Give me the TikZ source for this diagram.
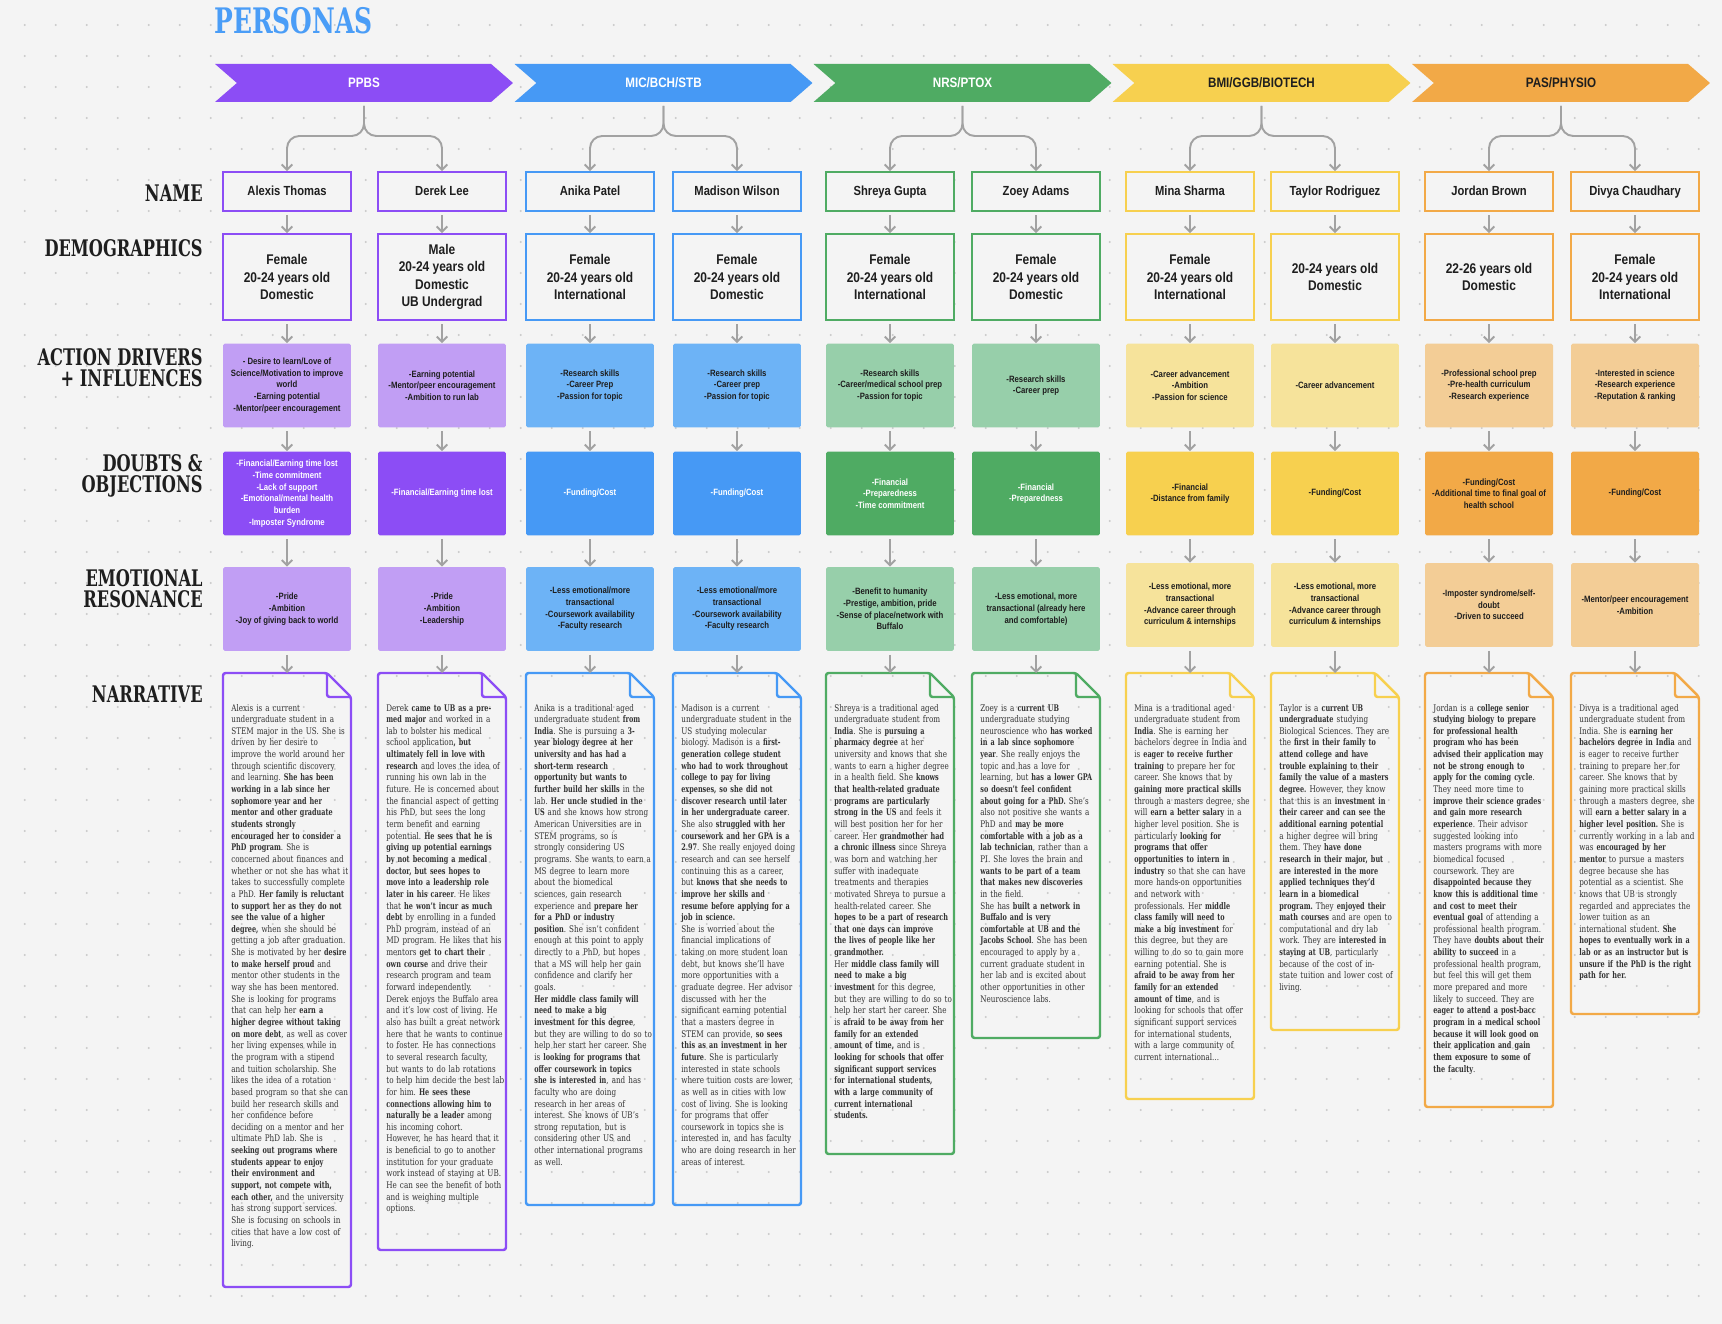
\documentclass[tikz,border=0pt]{standalone}
\usepackage{fontspec}
\setmainfont{DejaVu Serif}[UprightFeatures={FakeStretch=0.79},BoldFeatures={FakeStretch=0.71}]
\setsansfont{Liberation Sans}[FakeStretch=0.85]
\usetikzlibrary{arrows.meta,positioning,shapes.symbols}

\definecolor{bg}{HTML}{F4F4F4}
\definecolor{dotc}{HTML}{CACACA}
\definecolor{ink}{HTML}{1E1E1E}
\definecolor{txt}{HTML}{333333}
\definecolor{linkc}{HTML}{A2A2A2}
\definecolor{titleblue}{HTML}{4A9DF7}
\definecolor{ppbs}{HTML}{8C4DF5}
\definecolor{ppbslt}{HTML}{C19EF4}
\definecolor{mic}{HTML}{4699F5}
\definecolor{miclt}{HTML}{6DB3F6}
\definecolor{nrs}{HTML}{4FAB63}
\definecolor{nrslt}{HTML}{97CFAA}
\definecolor{bmi}{HTML}{F7D04F}
\definecolor{bmilt}{HTML}{F6E39B}
\definecolor{pas}{HTML}{F2A947}
\definecolor{paslt}{HTML}{F3CD96}

\begin{document}
\begin{tikzpicture}[x=0.02cm,y=-0.02cm,
  rowlabel/.style={anchor=east,align=right,inner sep=0pt,
                   font=\bfseries\fontsize{13}{11.9}\selectfont,text=ink},
  banner/.style={signal,signal from=west,signal to=east,signal pointer angle=82,
                 minimum width=5.96cm,minimum height=0.76cm,inner sep=0pt,
                 font=\sffamily\bfseries\fontsize{7.8}{9}\selectfont},
  namebox/.style={rectangle,draw,line width=1.1pt,fill=bg,minimum width=2.56cm,
                  minimum height=0.78cm,inner sep=0pt,text=ink,
                  text height=5.6pt,text depth=1.6pt,
                  font=\sffamily\bfseries\fontsize{7.5}{9}\selectfont},
  demobox/.style={rectangle,draw,line width=1.1pt,fill=bg,minimum width=2.56cm,
                  minimum height=1.72cm,inner sep=0pt,align=center,text=ink,
                  font=\sffamily\bfseries\fontsize{8}{9.8}\selectfont},
  cardbox/.style={rectangle,rounded corners=1pt,minimum width=2.56cm,
                  minimum height=1.68cm,inner sep=0pt,align=center,text=ink,
                  font=\sffamily\bfseries\fontsize{5.2}{6.65}\selectfont},
  story/.style={line width=1.4pt,rounded corners=1.5pt},
  storytext/.style={anchor=base west,inner sep=0pt,text width=2.8cm,align=left,
                    font=\fontsize{5.2}{6.63}\selectfont\frenchspacing,text=txt},
  link/.style={linkc,line width=1.1pt,-{Straight Barb[length=3pt,width=6pt]},
               shorten <=2pt},
]
  % Background and dot grid
  \useasboundingbox (0,0) rectangle (1722,1324);
  \fill[bg] (0,0) rectangle (1722,1324);
  \begin{scope}
    \clip (0,0) rectangle (1722,1324);
    \foreach \i in {0,...,55}
      \foreach \j in {0,...,42}
        \fill[dotc] (24.7+31*\i,25+31*\j) circle (0.65pt);
  \end{scope}

  % Title
  \node[anchor=west,inner sep=0pt,text=titleblue,
        font=\bfseries\fontsize{20}{20}\selectfont] (title) at (214,21) {PERSONAS};

  % Program banners
  \node[banner,fill=ppbs,text=white] (ppbs) at (364,83) {PPBS};
  \node[banner,fill=mic,text=white]  (mic)  at (663.5,83) {MIC/BCH/STB};
  \node[banner,fill=nrs,text=white]  (nrs)  at (962.5,83) {NRS/PTOX};
  \node[banner,fill=bmi,text=ink]    (bmi)  at (1261.5,83) {BMI/GGB/BIOTECH};
  \node[banner,fill=pas,text=ink]    (pas)  at (1561,83) {PAS/PHYSIO};

  % Row labels
  \node[rowlabel] (lbl-name)  at (203,193) {NAME};
  \node[rowlabel] (lbl-demo)  at (203,248) {DEMOGRAPHICS};
  \node[rowlabel] (lbl-act)   at (203,368) {ACTION DRIVERS\\+ INFLUENCES};
  \node[rowlabel] (lbl-doubt) at (203,476) {DOUBTS \&\\OBJECTIONS};
  \node[rowlabel] (lbl-emo)   at (203,589) {EMOTIONAL\\RESONANCE};
  \node[rowlabel] (lbl-story) at (203,694) {NARRATIVE};

  % Names
  \node[namebox,draw=ppbs] (alexis)  at (287,191.5)  {Alexis Thomas};
  \node[namebox,draw=ppbs] (derek)   at (442,191.5)  {Derek Lee};
  \node[namebox,draw=mic]  (anika)   at (590,191.5)  {Anika Patel};
  \node[namebox,draw=mic]  (madison) at (737,191.5)  {Madison Wilson};
  \node[namebox,draw=nrs]  (shreya)  at (890,191.5)  {Shreya Gupta};
  \node[namebox,draw=nrs]  (zoey)    at (1036,191.5) {Zoey Adams};
  \node[namebox,draw=bmi]  (mina)    at (1190,191.5) {Mina Sharma};
  \node[namebox,draw=bmi]  (taylor)  at (1335,191.5) {Taylor Rodriguez};
  \node[namebox,draw=pas]  (jordan)  at (1489,191.5) {Jordan Brown};
  \node[namebox,draw=pas]  (divya)   at (1635,191.5) {Divya Chaudhary};

  % Demographics
  \node[demobox,draw=ppbs] (alexis-demo)  at (287,277)  {Female\\20-24 years old\\Domestic};
  \node[demobox,draw=ppbs] (derek-demo)   at (442,277)  {Male\\20-24 years old\\Domestic\\UB Undergrad};
  \node[demobox,draw=mic]  (anika-demo)   at (590,277)  {Female\\20-24 years old\\International};
  \node[demobox,draw=mic]  (madison-demo) at (737,277)  {Female\\20-24 years old\\Domestic};
  \node[demobox,draw=nrs]  (shreya-demo)  at (890,277)  {Female\\20-24 years old\\International};
  \node[demobox,draw=nrs]  (zoey-demo)    at (1036,277) {Female\\20-24 years old\\Domestic};
  \node[demobox,draw=bmi]  (mina-demo)    at (1190,277) {Female\\20-24 years old\\International};
  \node[demobox,draw=bmi]  (taylor-demo)  at (1335,277) {20-24 years old\\Domestic};
  \node[demobox,draw=pas]  (jordan-demo)  at (1489,277) {22-26 years old\\Domestic};
  \node[demobox,draw=pas]  (divya-demo)   at (1635,277) {Female\\20-24 years old\\International};

  % Action drivers + influences
  \node[cardbox,fill=ppbslt] (alexis-act)  at (287,385.5)  {- Desire to learn/Love of\\Science/Motivation to improve\\world\\-Earning potential\\-Mentor/peer encouragement};
  \node[cardbox,fill=ppbslt] (derek-act)   at (442,385.5)  {-Earning potential\\-Mentor/peer encouragement\\-Ambition to run lab};
  \node[cardbox,fill=miclt]  (anika-act)   at (590,385.5)  {-Research skills\\-Career Prep\\-Passion for topic};
  \node[cardbox,fill=miclt]  (madison-act) at (737,385.5)  {-Research skills\\-Career prep\\-Passion for topic};
  \node[cardbox,fill=nrslt]  (shreya-act)  at (890,385.5)  {-Research skills\\-Career/medical school prep\\-Passion for topic};
  \node[cardbox,fill=nrslt]  (zoey-act)    at (1036,385.5) {-Research skills\\-Career prep};
  \node[cardbox,fill=bmilt]  (mina-act)    at (1190,385.5) {-Career advancement\\-Ambition\\-Passion for science};
  \node[cardbox,fill=bmilt]  (taylor-act)  at (1335,385.5) {-Career advancement};
  \node[cardbox,fill=paslt]  (jordan-act)  at (1489,385.5) {-Professional school prep\\-Pre-health curriculum\\-Research experience};
  \node[cardbox,fill=paslt]  (divya-act)   at (1635,385.5) {-Interested in science\\-Research experience\\-Reputation \& ranking};

  % Doubts & objections
  \node[cardbox,fill=ppbs,text=white] (alexis-doubt)  at (287,493.5)  {-Financial/Earning time lost\\-Time commitment\\-Lack of support\\-Emotional/mental health\\burden\\-Imposter Syndrome};
  \node[cardbox,fill=ppbs,text=white] (derek-doubt)   at (442,493.5)  {-Financial/Earning time lost};
  \node[cardbox,fill=mic,text=white]  (anika-doubt)   at (590,493.5)  {-Funding/Cost};
  \node[cardbox,fill=mic,text=white]  (madison-doubt) at (737,493.5)  {-Funding/Cost};
  \node[cardbox,fill=nrs,text=white]  (shreya-doubt)  at (890,493.5)  {-Financial\\-Preparedness\\-Time commitment};
  \node[cardbox,fill=nrs,text=white]  (zoey-doubt)    at (1036,493.5) {-Financial\\-Preparedness};
  \node[cardbox,fill=bmi]             (mina-doubt)    at (1190,493.5) {-Financial\\-Distance from family};
  \node[cardbox,fill=bmi]             (taylor-doubt)  at (1335,493.5) {-Funding/Cost};
  \node[cardbox,fill=pas]             (jordan-doubt)  at (1489,493.5) {-Funding/Cost\\-Additional time to final goal of\\health school};
  \node[cardbox,fill=pas]             (divya-doubt)   at (1635,493.5) {-Funding/Cost};

  % Emotional resonance
  \node[cardbox,fill=ppbslt] (alexis-emo)  at (287,609)  {-Pride\\-Ambition\\-Joy of giving back to world};
  \node[cardbox,fill=ppbslt] (derek-emo)   at (442,609)  {-Pride\\-Ambition\\-Leadership};
  \node[cardbox,fill=miclt]  (anika-emo)   at (590,609)  {-Less emotional/more\\transactional\\-Coursework availability\\-Faculty research};
  \node[cardbox,fill=miclt]  (madison-emo) at (737,609)  {-Less emotional/more\\transactional\\-Coursework availability\\-Faculty research};
  \node[cardbox,fill=nrslt]  (shreya-emo)  at (890,609)  {-Benefit to humanity\\-Prestige, ambition, pride\\-Sense of place/network with\\Buffalo};
  \node[cardbox,fill=nrslt]  (zoey-emo)    at (1036,609) {-Less emotional, more\\transactional (already here\\and comfortable)};
  \node[cardbox,fill=bmilt]  (mina-emo)    at (1190,605) {-Less emotional, more\\transactional\\-Advance career through\\curriculum \& internships};
  \node[cardbox,fill=bmilt]  (taylor-emo)  at (1335,605) {-Less emotional, more\\transactional\\-Advance career through\\curriculum \& internships};
  \node[cardbox,fill=paslt]  (jordan-emo)  at (1489,605) {-Imposter syndrome/self-\\doubt\\-Driven to succeed};
  \node[cardbox,fill=paslt]  (divya-emo)   at (1635,605) {-Mentor/peer encouragement\\-Ambition};

  % Narrative documents
  \coordinate (alexis-story)  at (287,673);
  \coordinate (derek-story)   at (442,673);
  \coordinate (anika-story)   at (590,673);
  \coordinate (madison-story) at (737,673);
  \coordinate (shreya-story)  at (890,673);
  \coordinate (zoey-story)    at (1036,673);
  \coordinate (mina-story)    at (1190,673);
  \coordinate (taylor-story)  at (1335,673);
  \coordinate (jordan-story)  at (1489,673);
  \coordinate (divya-story)   at (1635,673);

  \draw[story,ppbs] (223,673) -- ++(104,0) -- ++(24,24) |- (223,1287) -- cycle;
  \draw[story,ppbs] (327,673) |- (351,697);
  \draw[story,ppbs] (378,673) -- ++(104,0) -- ++(24,24) |- (378,1250) -- cycle;
  \draw[story,ppbs] (482,673) |- (506,697);
  \draw[story,mic] (526,673) -- ++(104,0) -- ++(24,24) |- (526,1205) -- cycle;
  \draw[story,mic] (630,673) |- (654,697);
  \draw[story,mic] (673,673) -- ++(104,0) -- ++(24,24) |- (673,1205) -- cycle;
  \draw[story,mic] (777,673) |- (801,697);
  \draw[story,nrs] (826,673) -- ++(104,0) -- ++(24,24) |- (826,1154) -- cycle;
  \draw[story,nrs] (930,673) |- (954,697);
  \draw[story,nrs] (972,673) -- ++(104,0) -- ++(24,24) |- (972,1038) -- cycle;
  \draw[story,nrs] (1076,673) |- (1100,697);
  \draw[story,bmi] (1126,673) -- ++(104,0) -- ++(24,24) |- (1126,1099) -- cycle;
  \draw[story,bmi] (1230,673) |- (1254,697);
  \draw[story,bmi] (1271,673) -- ++(104,0) -- ++(24,24) |- (1271,1030) -- cycle;
  \draw[story,bmi] (1375,673) |- (1399,697);
  \draw[story,pas] (1425,673) -- ++(104,0) -- ++(24,24) |- (1425,1107) -- cycle;
  \draw[story,pas] (1529,673) |- (1553,697);
  \draw[story,pas] (1571,673) -- ++(104,0) -- ++(24,24) |- (1571,1014) -- cycle;
  \draw[story,pas] (1675,673) |- (1699,697);

  \node[storytext] (alexis-text) at (231,711) {Alexis is a current\\
undergraduate student in a\\
STEM major in the US. She is\\
driven by her desire to\\
improve the world around her\\
through scientific discovery\\
and learning. \textbf{She has been}\\
\textbf{working in a lab since her}\\
\textbf{sophomore year and her}\\
\textbf{mentor and other graduate}\\
\textbf{students strongly}\\
\textbf{encouraged her to consider a}\\
\textbf{PhD program}. She is\\
concerned about finances and\\
whether or not she has what it\\
takes to successfully complete\\
a PhD. \textbf{Her family is reluctant}\\
\textbf{to support her as they do not}\\
\textbf{see the value of a higher}\\
\textbf{degree,} when she should be\\
getting a job after graduation.\\
She is motivated by her \textbf{desire}\\
\textbf{to make herself proud} and\\
mentor other students in the\\
way she has been mentored.\\
She is looking for programs\\
that can help her \textbf{earn a}\\
\textbf{higher degree without taking}\\
\textbf{on more debt}, as well as cover\\
her living expenses while in\\
the program with a stipend\\
and tuition scholarship. She\\
likes the idea of a rotation\\
based program so that she can\\
build her research skills and\\
her confidence before\\
deciding on a mentor and her\\
ultimate PhD lab. She is\\
\textbf{seeking out programs where}\\
\textbf{students appear to enjoy}\\
\textbf{their environment and}\\
\textbf{support, not compete with,}\\
\textbf{each other,} and the university\\
has strong support services.\\
She is focusing on schools in\\
cities that have a low cost of\\
living.};

  \node[storytext] (derek-text) at (386,711) {Derek \textbf{came to UB as a pre-}\\
\textbf{med major} and worked in a\\
lab to bolster his medical\\
school application\textbf{, but}\\
\textbf{ultimately fell in love with}\\
\textbf{research} and loves the idea of\\
running his own lab in the\\
future. He is concerned about\\
the financial aspect of getting\\
his PhD, but sees the long\\
term benefit and earning\\
potential. \textbf{He sees that he is}\\
\textbf{giving up potential earnings}\\
\textbf{by not becoming a medical}\\
\textbf{doctor, but sees hopes to}\\
\textbf{move into a leadership role}\\
\textbf{later in his career}. He likes\\
that \textbf{he won't incur as much}\\
\textbf{debt} by enrolling in a funded\\
PhD program, instead of an\\
MD program. He likes that his\\
mentors \textbf{get to chart their}\\
\textbf{own course} and drive their\\
research program and team\\
forward independently.\\
Derek enjoys the Buffalo area\\
and it's low cost of living. He\\
also has built a great network\\
here that he wants to continue\\
to foster. He has connections\\
to several research faculty,\\
but wants to do lab rotations\\
to help him decide the best lab\\
for him. \textbf{He sees these}\\
\textbf{connections allowing him to}\\
\textbf{naturally be a leader} among\\
his incoming cohort.\\
However, he has heard that it\\
is beneficial to go to another\\
institution for your graduate\\
work instead of staying at UB.\\
He can see the benefit of both\\
and is weighing multiple\\
options.};

  \node[storytext] (anika-text) at (534,711) {Anika is a traditional aged\\
undergraduate student \textbf{from}\\
\textbf{India}. She is pursuing a \textbf{3-}\\
\textbf{year biology degree at her}\\
\textbf{university and has had a}\\
\textbf{short-term research}\\
\textbf{opportunity but wants to}\\
\textbf{further build her skills} in the\\
lab. \textbf{Her uncle studied in the}\\
\textbf{US} and she knows how strong\\
American Universities are in\\
STEM programs, so is\\
strongly considering US\\
programs. She wants to earn a\\
MS degree to learn more\\
about the biomedical\\
sciences, gain research\\
experience and \textbf{prepare her}\\
\textbf{for a PhD or industry}\\
\textbf{position}. She isn't confident\\
enough at this point to apply\\
directly to a PhD, but hopes\\
that a MS will help her gain\\
confidence and clarify her\\
goals.\\
\textbf{Her middle class family will}\\
\textbf{need to make a big}\\
\textbf{investment for this degree},\\
but they are willing to do so to\\
help her start her career. She\\
is \textbf{looking for programs that}\\
\textbf{offer coursework in topics}\\
\textbf{she is interested in}, and has\\
faculty who are doing\\
research in her areas of\\
interest. She knows of UB's\\
strong reputation, but is\\
considering other US and\\
other international programs\\
as well.};

  \node[storytext] (madison-text) at (681,711) {Madison is a current\\
undergraduate student in the\\
US studying molecular\\
biology. Madison is a \textbf{first-}\\
\textbf{generation college student}\\
\textbf{who had to work throughout}\\
\textbf{college to pay for living}\\
\textbf{expenses, so she did not}\\
\textbf{discover research until later}\\
\textbf{in her undergraduate career}.\\
She also \textbf{struggled with her}\\
\textbf{coursework and her GPA is a}\\
\textbf{2.97}. She really enjoyed doing\\
research and can see herself\\
continuing this as a career,\\
but \textbf{knows that she needs to}\\
\textbf{improve her skills and}\\
\textbf{resume before applying for a}\\
\textbf{job in science.}\\
She is worried about the\\
financial implications of\\
taking on more student loan\\
debt, but knows she'll have\\
more opportunities with a\\
graduate degree. Her advisor\\
discussed with her the\\
significant earning potential\\
that a masters degree in\\
STEM can provide, \textbf{so sees}\\
\textbf{this as an investment in her}\\
\textbf{future}. She is particularly\\
interested in state schools\\
where tuition costs are lower,\\
as well as in cities with low\\
cost of living. She is looking\\
for programs that offer\\
coursework in topics she is\\
interested in, and has faculty\\
who are doing research in her\\
areas of interest.};

  \node[storytext] (shreya-text) at (834,711) {Shreya is a traditional aged\\
undergraduate student from\\
\textbf{India}. She is \textbf{pursuing a}\\
\textbf{pharmacy degree} at her\\
university and knows that she\\
wants to earn a higher degree\\
in a health field. She \textbf{knows}\\
\textbf{that health-related graduate}\\
\textbf{programs are particularly}\\
\textbf{strong in the US} and feels it\\
will best position her for her\\
career. Her \textbf{grandmother had}\\
\textbf{a chronic illness} since Shreya\\
was born and watching her\\
suffer with inadequate\\
treatments and therapies\\
motivated Shreya to pursue a\\
health-related career. She\\
\textbf{hopes to be a part of research}\\
\textbf{that one days can improve}\\
\textbf{the lives of people like her}\\
\textbf{grandmother.}\\
Her \textbf{middle class family will}\\
\textbf{need to make a big}\\
\textbf{investment} for this degree,\\
but they are willing to do so to\\
help her start her career. She\\
is \textbf{afraid to be away from her}\\
\textbf{family for an extended}\\
\textbf{amount of time,} and is\\
\textbf{looking for schools that offer}\\
\textbf{significant support services}\\
\textbf{for international students,}\\
\textbf{with a large community of}\\
\textbf{current international}\\
\textbf{students.}};

  \node[storytext] (zoey-text) at (980,711) {Zoey is a \textbf{current UB}\\
undergraduate studying\\
neuroscience who \textbf{has worked}\\
\textbf{in a lab since sophomore}\\
\textbf{year}. She really enjoys the\\
topic and has a love for\\
learning, but \textbf{has a lower GPA}\\
\textbf{so doesn't feel confident}\\
\textbf{about going for a PhD.} She's\\
also not positive she wants a\\
PhD and \textbf{may be more}\\
\textbf{comfortable with a job as a}\\
\textbf{lab technician}, rather than a\\
PI. She loves the brain and\\
\textbf{wants to be part of a team}\\
\textbf{that makes new discoveries}\\
in the field.\\
She has \textbf{built a network in}\\
\textbf{Buffalo and is very}\\
\textbf{comfortable at UB and the}\\
\textbf{Jacobs School}. She has been\\
encouraged to apply by a\\
current graduate student in\\
her lab and is excited about\\
other opportunities in other\\
Neuroscience labs.};

  \node[storytext] (mina-text) at (1134,711) {Mina is a traditional aged\\
undergraduate student from\\
\textbf{India}. She is earning her\\
bachelors degree in India and\\
is \textbf{eager to receive further}\\
\textbf{training} to prepare her for\\
career. She knows that by\\
\textbf{gaining more practical skills}\\
through a masters degree, she\\
will \textbf{earn a better salary} in a\\
higher level position. She is\\
particularly \textbf{looking for}\\
\textbf{programs that offer}\\
\textbf{opportunities to intern in}\\
\textbf{industry} so that she can have\\
more hands-on opportunities\\
and network with\\
professionals. Her \textbf{middle}\\
\textbf{class family will need to}\\
\textbf{make a big investment} for\\
this degree, but they are\\
willing to do so to gain more\\
earning potential. She is\\
\textbf{afraid to be away from her}\\
\textbf{family for an extended}\\
\textbf{amount of time}, and is\\
looking for schools that offer\\
significant support services\\
for international students,\\
with a large community of\\
current international...};

  \node[storytext] (taylor-text) at (1279,711) {Taylor is a \textbf{current UB}\\
\textbf{undergraduate} studying\\
Biological Sciences. They are\\
the \textbf{first in their family to}\\
\textbf{attend college and have}\\
\textbf{trouble explaining to their}\\
\textbf{family the value of a masters}\\
\textbf{degree.} However, they know\\
that this is an \textbf{investment in}\\
\textbf{their career and can see the}\\
\textbf{additional earning potential}\\
a higher degree will bring\\
them. They \textbf{have done}\\
\textbf{research in their major, but}\\
\textbf{are interested in the more}\\
\textbf{applied techniques they'd}\\
\textbf{learn in a biomedical}\\
\textbf{program.} They \textbf{enjoyed their}\\
\textbf{math courses} and are open to\\
computational and dry lab\\
work. They are \textbf{interested in}\\
\textbf{staying at UB}, particularly\\
because of the cost of in-\\
state tuition and lower cost of\\
living.};

  \node[storytext] (jordan-text) at (1433,711) {Jordan is a \textbf{college senior}\\
\textbf{studying biology to prepare}\\
\textbf{for professional health}\\
\textbf{program who has been}\\
\textbf{advised their application may}\\
\textbf{not be strong enough to}\\
\textbf{apply for the coming cycle}.\\
They need more time to\\
\textbf{improve their science grades}\\
\textbf{and gain more research}\\
\textbf{experience}. Their advisor\\
suggested looking into\\
masters programs with more\\
biomedical focused\\
coursework. They are\\
\textbf{disappointed because they}\\
\textbf{know this is additional time}\\
\textbf{and cost to meet their}\\
\textbf{eventual goal} of attending a\\
professional health program.\\
They have \textbf{doubts about their}\\
\textbf{ability to succeed} in a\\
professional health program,\\
but feel this will get them\\
more prepared and more\\
likely to succeed. They are\\
\textbf{eager to attend a post-bacc}\\
\textbf{program in a medical school}\\
\textbf{because it will look good on}\\
\textbf{their application and gain}\\
\textbf{them exposure to some of}\\
\textbf{the faculty}.};

  \node[storytext] (divya-text) at (1579,711) {Divya is a traditional aged\\
undergraduate student from\\
India. She is \textbf{earning her}\\
\textbf{bachelors degree in India} and\\
is eager to receive further\\
training to prepare her for\\
career. She knows that by\\
gaining more practical skills\\
through a masters degree, she\\
will \textbf{earn a better salary in a}\\
\textbf{higher level position.} She is\\
currently working in a lab and\\
was \textbf{encouraged by her}\\
\textbf{mentor} to pursue a masters\\
degree because she has\\
potential as a scientist. She\\
knows that UB is strongly\\
regarded and appreciates the\\
lower tuition as an\\
international student. \textbf{She}\\
\textbf{hopes to eventually work in a}\\
\textbf{lab or as an instructor but is}\\
\textbf{unsure if the PhD is the right}\\
\textbf{path for her.}};

  % Banner branches to the personas
  \draw[link,rounded corners=7pt] (ppbs.south) -- (364,136) -| (alexis.north);
  \draw[link,rounded corners=7pt] (ppbs.south) -- (364,136) -| (derek.north);
  \draw[link,rounded corners=7pt] (mic.south) -- (663.5,136) -| (anika.north);
  \draw[link,rounded corners=7pt] (mic.south) -- (663.5,136) -| (madison.north);
  \draw[link,rounded corners=7pt] (nrs.south) -- (962.5,136) -| (shreya.north);
  \draw[link,rounded corners=7pt] (nrs.south) -- (962.5,136) -| (zoey.north);
  \draw[link,rounded corners=7pt] (bmi.south) -- (1261.5,136) -| (mina.north);
  \draw[link,rounded corners=7pt] (bmi.south) -- (1261.5,136) -| (taylor.north);
  \draw[link,rounded corners=7pt] (pas.south) -- (1561,136) -| (jordan.north);
  \draw[link,rounded corners=7pt] (pas.south) -- (1561,136) -| (divya.north);

  % Row-to-row arrows
  \foreach \p in {alexis,derek,anika,madison,shreya,zoey,mina,taylor,jordan,divya} {
    \draw[link] (\p.south) -- (\p-demo.north);
    \draw[link] (\p-demo.south) -- (\p-act.north);
    \draw[link] (\p-act.south) -- (\p-doubt.north);
    \draw[link] (\p-doubt.south) -- (\p-emo.north);
    \draw[link] (\p-emo.south) -- (\p-story);
  }
\end{tikzpicture}
\end{document}
